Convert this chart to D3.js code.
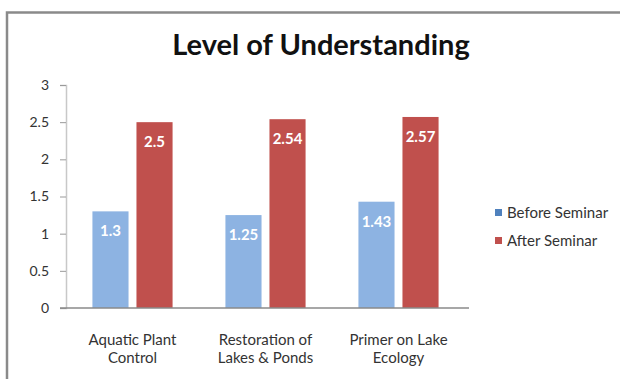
<!DOCTYPE html>
<html>
<head>
<meta charset="utf-8">
<script src="https://cdn.jsdelivr.net/npm/d3@7"></script>
<style>
  body { margin: 0; background: #fff; }
  text { font-family: Lato, "DejaVu Sans", sans-serif; }
</style>
</head>
<body>
<script>
// chart values
const categories = ["Aquatic Plant Control", "Restoration of Lakes & Ponds", "Primer on Lake Ecology"];
const categoryLines = [["Aquatic Plant", "Control"], ["Restoration of", "Lakes & Ponds"], ["Primer on Lake", "Ecology"]];
const seriesNames = ["Before Seminar", "After Seminar"];
const beforeValues = [1.3, 1.25, 1.43];
const afterValues = [2.5, 2.54, 2.57];
const yTicks = [0, 0.5, 1, 1.5, 2, 2.5, 3];

function main() {
    const width = 620, height = 379;

    const svg = d3.select("body").append("svg")
        .attr("width", width)
        .attr("height", height);

    // outer frame (runs off the right and bottom of the picture)
    svg.append("path")
        .attr("d", "M7,380 V12.5 H621")
        .attr("fill", "none")
        .attr("stroke", "#8a8a8a")
        .attr("stroke-width", 2.5);

    svg.append("text")
        .attr("x", 321)
        .attr("y", 55)
        .attr("text-anchor", "middle")
        .attr("font-size", "29px")
        .attr("font-weight", "bold")
        .attr("fill", "#111")
        .text("Level of Understanding");

    const left = 66, right = 465, top = 85, bottom = 308;

    const x0 = d3.scaleBand()
        .domain(categories)
        .range([left, right]);

    const x1 = d3.scaleBand()
        .domain(seriesNames)
        .range([0, x0.bandwidth()])
        .paddingInner(0.18)
        .paddingOuter(0.6);

    const y = d3.scaleLinear()
        .domain([0, 3])
        .range([bottom, top]);

    const color = d3.scaleOrdinal()
        .domain(seriesNames)
        .range(["#8db3e2", "#c0504d"]);
    const legendColor = d3.scaleOrdinal()
        .domain(seriesNames)
        .range(["#4f81bd", "#c0504d"]);

    // y axis
    const yAxis = svg.append("g")
        .attr("transform", "translate(" + left + ",0)")
        .call(d3.axisLeft(y).tickValues(yTicks).tickFormat(d3.format("")).tickSize(6).tickPadding(11));
    yAxis.select(".domain").attr("stroke", "#c8c8c8").attr("stroke-width", 1.5);
    yAxis.selectAll(".tick line").attr("stroke", "#9a9a9a");
    yAxis.selectAll(".tick text")
        .attr("fill", "#333")
        .attr("font-size", "14px")
        .attr("font-family", "Lato, sans-serif");

    const rows = categories.map((c, i) => ({
        cat: c,
        values: [
            { key: seriesNames[0], value: beforeValues[i] },
            { key: seriesNames[1], value: afterValues[i] }
        ]
    }));

    const groups = svg.selectAll(".group")
        .data(rows)
        .join("g")
        .attr("class", "group")
        .attr("transform", d => "translate(" + x0(d.cat) + ",0)");

    groups.selectAll("rect")
        .data(d => d.values)
        .join("rect")
        .attr("x", d => x1(d.key))
        .attr("y", d => y(d.value))
        .attr("width", x1.bandwidth())
        .attr("height", d => y(0) - y(d.value))
        .attr("fill", d => color(d.key));

    groups.selectAll(".label")
        .data(d => d.values)
        .join("text")
        .attr("class", "label")
        .attr("x", d => x1(d.key) + x1.bandwidth() / 2)
        .attr("y", d => y(d.value) + 25)
        .attr("text-anchor", "middle")
        .attr("font-size", "15px")
        .attr("font-weight", "bold")
        .attr("fill", "#fff")
        .text(d => d.value);

    // x axis baseline
    svg.append("line")
        .attr("x1", left - 6)
        .attr("x2", right + 4)
        .attr("y1", y(0))
        .attr("y2", y(0))
        .attr("stroke", "#8a8a8a")
        .attr("stroke-width", 1.5);

    // category labels
    svg.selectAll(".catlabel")
        .data(categories)
        .join("text")
        .attr("class", "catlabel")
        .attr("x", d => x0(d) + x0.bandwidth() / 2)
        .attr("y", 345)
        .attr("text-anchor", "middle")
        .attr("font-size", "15px")
        .attr("fill", "#333")
        .selectAll("tspan")
        .data((d, i) => categoryLines[i])
        .join("tspan")
        .attr("x", function () { return this.parentNode.getAttribute("x"); })
        .attr("dy", (d, i) => i === 0 ? 0 : 18)
        .text(d => d);

    // legend
    const legend = svg.selectAll(".legend")
        .data(seriesNames)
        .join("g")
        .attr("class", "legend")
        .attr("transform", (d, i) => "translate(495," + (209 + i * 28) + ")");
    legend.append("rect")
        .attr("width", 7)
        .attr("height", 7)
        .attr("fill", d => legendColor(d));
    legend.append("text")
        .attr("x", 12)
        .attr("y", 9)
        .attr("font-size", "15px")
        .attr("fill", "#333")
        .text(d => d);
}
main();
</script>
</body>
</html>
